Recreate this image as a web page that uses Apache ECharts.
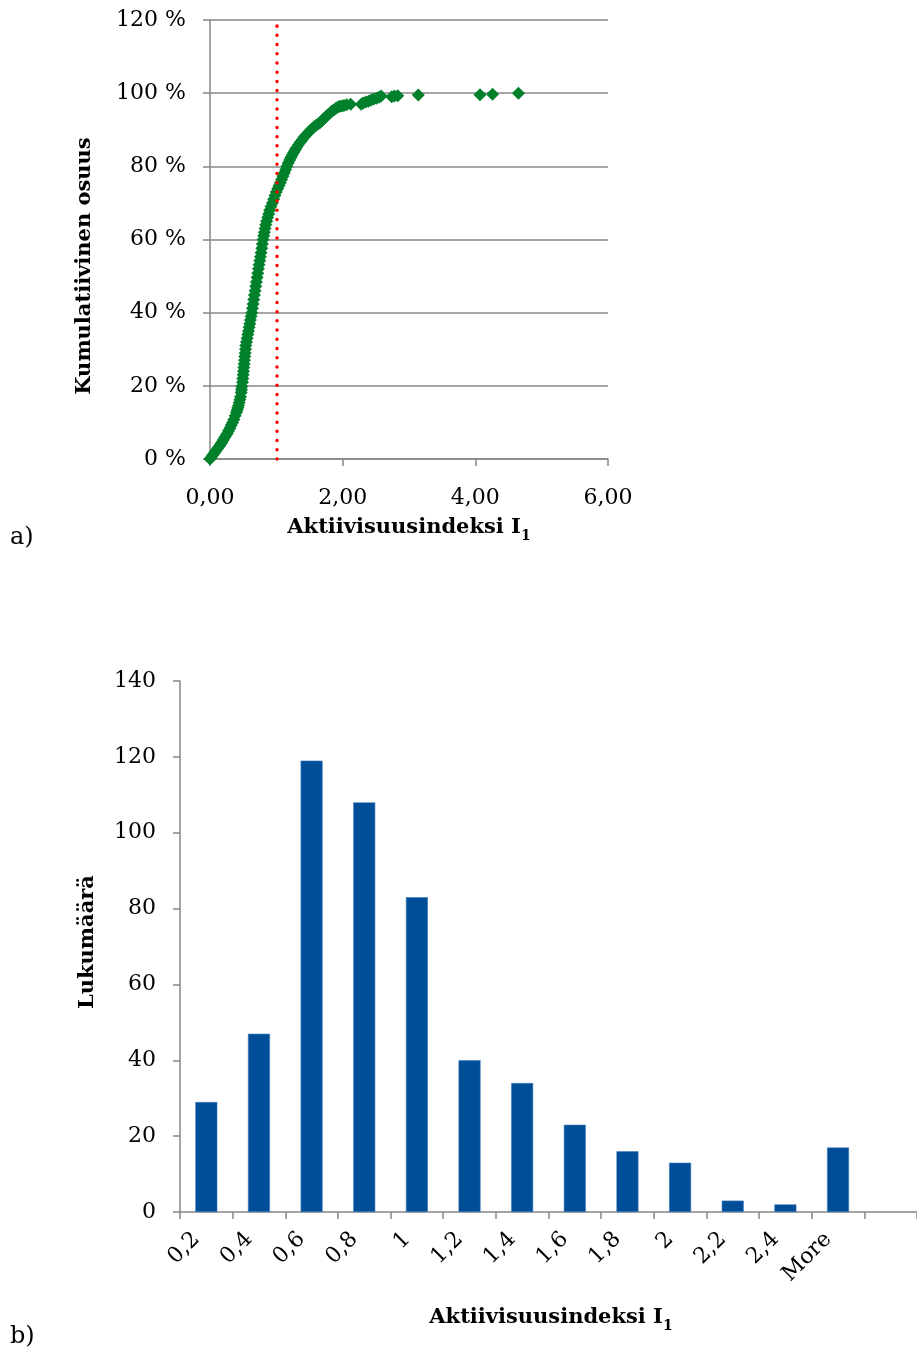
<!DOCTYPE html>
<html>
<head>
<meta charset="utf-8">
<script src="https://cdn.jsdelivr.net/npm/echarts@6/dist/echarts.min.js"></script>
<style>
html,body{margin:0;padding:0;background:#fff;}
#c{width:917px;height:1351px;}
</style>
</head>
<body>
<div id="c"></div>
<script>
// ---- Chart a) cumulative share ----
const cumX = [
0.00,0.02,0.04,0.06,0.08,0.10,0.12,0.14,0.16,0.18,0.20,0.22,0.24,0.26,0.28,0.30,0.32,0.34,0.36,0.38,
0.40,0.41,0.42,0.43,0.44,0.45,0.46,0.47,0.475,0.48,0.49,0.495,0.50,0.505,0.51,0.515,0.52,0.525,0.53,0.535,
0.54,0.55,0.56,0.57,0.58,0.59,0.60,0.61,0.62,0.63,0.64,0.65,0.66,0.67,0.68,0.69,0.70,0.71,0.72,0.73,
0.74,0.75,0.76,0.77,0.78,0.79,0.80,0.81,0.82,0.83,0.84,0.855,0.87,0.885,0.90,0.92,0.94,0.96,0.98,1.00,
1.02,1.04,1.06,1.08,1.10,1.12,1.14,1.16,1.18,1.20,1.22,1.24,1.26,1.28,1.30,1.33,1.36,1.39,1.42,1.45,
1.48,1.51,1.54,1.57,1.60,1.63,1.66,1.69,1.72,1.75,1.78,1.81,1.84,1.87,1.90,1.93,1.96,1.99,2.02,2.06,
2.12,2.28,2.31,2.35,2.39,2.43,2.47,2.51,2.55,2.58,2.74,2.78,2.83,3.14,4.07,4.26,4.65
];
const cumY = [
0.0,0.5,1.0,1.5,2.0,2.5,3.0,3.5,4.0,4.6,5.2,5.8,6.4,7.0,7.7,8.4,9.2,10.0,10.8,11.8,
12.8,13.4,14.0,14.6,15.4,16.2,17.0,18.2,19.0,19.8,21.0,22.0,23.0,24.0,25.0,26.0,27.0,28.0,29.0,30.0,
31.0,32.0,33.0,34.0,35.0,36.0,37.0,38.0,39.0,40.0,41.2,42.4,43.6,44.8,46.0,47.2,48.4,49.6,50.8,52.0,
53.1,54.2,55.3,56.4,57.6,58.8,60.0,61.0,62.0,63.0,64.0,65.0,66.0,67.0,68.0,69.0,70.0,71.0,72.0,73.0,
73.9,74.7,75.5,76.4,77.3,78.2,79.1,80.0,80.9,81.7,82.4,83.1,83.8,84.4,85.0,85.8,86.6,87.3,88.0,88.6,
89.2,89.8,90.3,90.8,91.2,91.6,92.0,92.5,93.1,93.6,94.1,94.6,95.1,95.5,95.9,96.2,96.4,96.5,96.6,96.8,
97.0,97.0,97.3,97.6,97.8,98.1,98.4,98.6,98.9,99.2,99.0,99.2,99.3,99.5,99.6,99.7,100.0
];
const threshold = 1;
const aXTicks = [0, 2, 4, 6];
const aYTicks = [0, 20, 40, 60, 80, 100, 120];

// ---- Chart b) histogram ----
const binLabels = ['0,2','0,4','0,6','0,8','1','1,2','1,4','1,6','1,8','2','2,2','2,4','More',''];
const binCounts = [29, 47, 119, 108, 83, 40, 34, 23, 16, 13, 3, 2, 17, null];
const bYTicks = [0, 20, 40, 60, 80, 100, 120, 140];

const cumData = cumX.map((x, i) => [x, cumY[i]]);

const SERIF = '"DejaVu Serif", "Liberation Serif", serif';
const AXIS = '#878787';
const chart = echarts.init(document.getElementById('c'), null, {renderer: 'canvas'});

const titleRich = {
  m: {fontFamily: SERIF, fontWeight: 'bold', fontSize: 21, color: '#000', lineHeight: 26, verticalAlign: 'top'},
  s: {fontFamily: SERIF, fontWeight: 'bold', fontSize: 14, color: '#000', lineHeight: 14, verticalAlign: 'bottom'}
};

chart.setOption({
  animation: false,
  backgroundColor: '#fff',
  grid: [
    {left: 210, top: 20, width: 398, height: 439, containLabel: false},
    {left: 180, top: 681, width: 746, height: 531, containLabel: false}
  ],
  xAxis: [
    {
      gridIndex: 0, type: 'value', min: aXTicks[0], max: aXTicks[aXTicks.length - 1], interval: 2,
      axisLine: {show: true, onZero: false, lineStyle: {color: AXIS, width: 1.5}},
      axisTick: {show: true, length: 7, lineStyle: {color: AXIS, width: 1.5}},
      splitLine: {show: false},
      axisLabel: {margin: 22, fontFamily: SERIF, fontSize: 22, color: '#000',
        padding: [6, 0, 0, 0],
        formatter: v => v.toFixed(2).replace('.', ',')}
    },
    {
      gridIndex: 1, type: 'category', data: binLabels, boundaryGap: true, position: 'bottom',
      axisLine: {show: true, onZero: false, lineStyle: {color: AXIS, width: 1.5}},
      axisTick: {show: true, length: 7, alignWithLabel: false, interval: 0, lineStyle: {color: AXIS, width: 1.5}},
      axisLabel: {interval: 0, rotate: 45, margin: 14, fontFamily: SERIF, fontSize: 22, color: '#000',
        padding: [38, 14, 0, 0]}
    }
  ],
  yAxis: [
    {
      gridIndex: 0, type: 'value', min: aYTicks[0], max: aYTicks[aYTicks.length - 1], interval: 20,
      axisLine: {show: true, lineStyle: {color: AXIS, width: 1.5}},
      axisTick: {show: true, length: 7, lineStyle: {color: AXIS, width: 1.5}},
      splitLine: {show: true, lineStyle: {color: AXIS, width: 1.5}},
      axisLabel: {margin: 24, fontFamily: SERIF, fontSize: 22, color: '#000', formatter: v => v + ' %'}
    },
    {
      gridIndex: 1, type: 'value', min: bYTicks[0], max: bYTicks[bYTicks.length - 1], interval: 20,
      axisLine: {show: true, lineStyle: {color: AXIS, width: 1.5}},
      axisTick: {show: true, length: 7, lineStyle: {color: AXIS, width: 1.5}},
      splitLine: {show: false},
      axisLabel: {margin: 24, fontFamily: SERIF, fontSize: 22, color: '#000'}
    }
  ],
  series: [
    {
      type: 'scatter', xAxisIndex: 0, yAxisIndex: 0, data: cumData,
      symbol: 'diamond', symbolSize: 13,
      itemStyle: {color: '#00802B', opacity: 1},
      markLine: {
        silent: true, symbol: 'none', label: {show: false}, z: 10,
        lineStyle: {color: '#FF0000', width: 3.5, type: [0.01, 9.2], cap: 'round', opacity: 1},
        data: [{xAxis: threshold}]
      }
    },
    {
      type: 'bar', xAxisIndex: 1, yAxisIndex: 1, data: binCounts,
      barWidth: 22,
      itemStyle: {color: '#004D98', borderColor: '#3E7CC0', borderWidth: 0.6}
    }
  ],
  graphic: [
    {type: 'text', x: 85, y: 266, rotation: Math.PI / 2,
      style: {text: 'Kumulatiivinen osuus', fontFamily: SERIF, fontWeight: 'bold', fontSize: 21, fill: '#000', align: 'center', verticalAlign: 'middle'}},
    {type: 'text', x: 409, y: 530,
      style: {text: '{m|Aktiivisuusindeksi I}{s|1}', rich: titleRich, align: 'center', verticalAlign: 'middle'}},
    {type: 'text', x: 10, y: 538,
      style: {text: 'a)', fontFamily: SERIF, fontSize: 24, fill: '#000', align: 'left', verticalAlign: 'middle'}},
    {type: 'text', x: 88, y: 942, rotation: Math.PI / 2,
      style: {text: 'Lukumäärä', fontFamily: SERIF, fontWeight: 'bold', fontSize: 21, fill: '#000', align: 'center', verticalAlign: 'middle'}},
    {type: 'text', x: 551, y: 1320,
      style: {text: '{m|Aktiivisuusindeksi I}{s|1}', rich: titleRich, align: 'center', verticalAlign: 'middle'}},
    {type: 'text', x: 10, y: 1337,
      style: {text: 'b)', fontFamily: SERIF, fontSize: 24, fill: '#000', align: 'left', verticalAlign: 'middle'}}
  ]
});
</script>
</body>
</html>
